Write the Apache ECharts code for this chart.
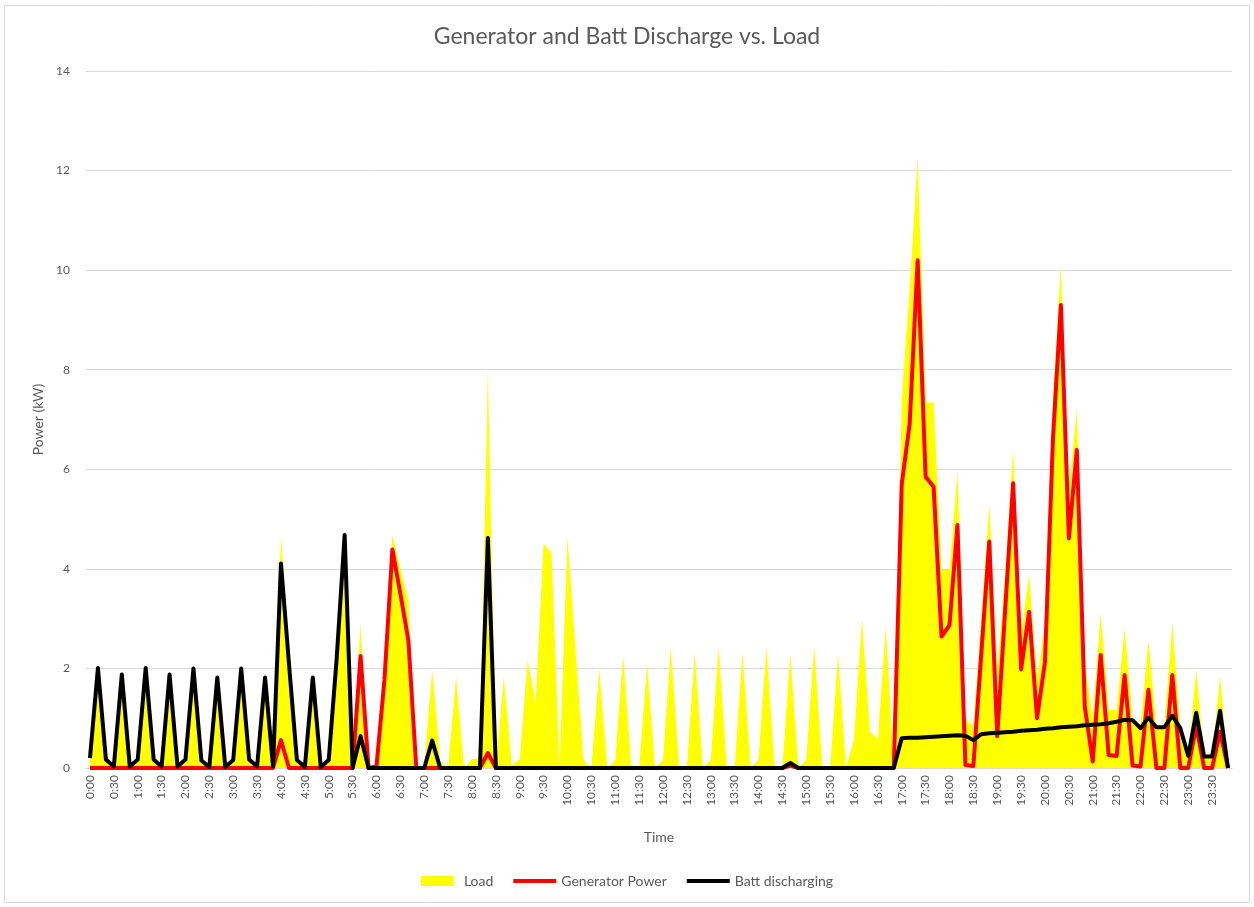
<!DOCTYPE html>
<html>
<head>
<meta charset="utf-8">
<title>Generator and Batt Discharge vs. Load</title>
<script src="https://cdn.jsdelivr.net/npm/echarts@6/dist/echarts.min.js"></script>
<style>
html, body { margin: 0; padding: 0; background: #fff; }
#chart { width: 1254px; height: 907px; }
</style>
</head>
<body>
<div id="chart"></div>
<script>
// 10-minute steps over one day
var times = [];
for (var h = 0; h < 24; h++) {
	for (var m = 0; m < 60; m += 10) {
		times.push(h + ':' + (m < 10 ? '0' + m : m));
	}
}

// Load (kW)
var load = [
	0.2, 2.01, 0.17, 0.03, 1.88, 0.03, 0.17, 2.01, 0.17, 0.03,
	1.88, 0.03, 0.17, 2.0, 0.15, 0.02, 1.82, 0.02, 0.16, 2.0,
	0.17, 0.03, 1.82, 0.03, 4.67, 2.1, 0.16, 0.02, 1.82, 0.02,
	0.16, 2.2, 4.68, 0, 2.9, 0.05, 0.05, 1.9, 4.68, 4.0,
	3.37, 0, 0.05, 1.97, 0.15, 0, 1.83, 0, 0.18, 0.2,
	8.0, 0, 1.83, 0.05, 0.18, 2.17, 1.3, 4.51, 4.31, 0,
	4.65, 2.4, 0.16, 0, 1.98, 0, 0.16, 2.25, 0.05, 0,
	2.1, 0, 0.16, 2.44, 0.05, 0, 2.32, 0, 0.16, 2.44,
	0.05, 0, 2.32, 0, 0.16, 2.44, 0.05, 0, 2.29, 0,
	0.16, 2.44, 0.05, 0, 2.29, 0, 0.56, 2.99, 0.73, 0.58,
	2.82, 0, 7.4, 9.6, 12.24, 7.34, 7.34, 3.98, 3.98, 5.95,
	1.0, 0.83, 3.0, 5.31, 1.9, 3.9, 6.4, 2.7, 3.88, 1.8,
	2.9, 7.4, 10.1, 5.6, 7.19, 2.1, 1.0, 3.1, 1.16, 1.17,
	2.8, 1.01, 0.83, 2.56, 0.82, 0.82, 2.9, 0.8, 0.24, 1.97,
	0.23, 0.23, 1.85, 0
];

// Generator Power (kW)
var generator = [
	0, 0, 0, 0, 0, 0, 0, 0, 0, 0,
	0, 0, 0, 0, 0, 0, 0, 0, 0, 0,
	0, 0, 0, 0, 0.56, 0, 0, 0, 0, 0,
	0, 0, 0, 0, 2.25, 0, 0.03, 1.77, 4.39, 3.5,
	2.57, 0, 0, 0, 0, 0, 0, 0, 0, 0,
	0.3, 0, 0, 0, 0, 0, 0, 0, 0, 0,
	0, 0, 0, 0, 0, 0, 0, 0, 0, 0,
	0, 0, 0, 0, 0, 0, 0, 0, 0, 0,
	0, 0, 0, 0, 0, 0, 0, 0, 0.05, 0,
	0, 0, 0, 0, 0, 0, 0, 0, 0, 0,
	0, 0, 5.7, 6.92, 10.2, 5.85, 5.65, 2.64, 2.87, 4.88,
	0.06, 0.04, 2.3, 4.55, 0.64, 3.18, 5.72, 1.98, 3.14, 1.0,
	2.13, 6.6, 9.3, 4.61, 6.39, 1.23, 0.13, 2.27, 0.26, 0.24,
	1.87, 0.05, 0.03, 1.57, 0, 0, 1.87, 0, 0, 0.85,
	0, 0, 0.73, 0
];

// Batt discharging (kW)
var battery = [
	0.2, 2.01, 0.17, 0.03, 1.88, 0.03, 0.17, 2.01, 0.17, 0.03,
	1.88, 0.03, 0.17, 2.0, 0.15, 0.02, 1.82, 0.02, 0.16, 2.0,
	0.17, 0.03, 1.82, 0.03, 4.11, 2.1, 0.16, 0.02, 1.82, 0.02,
	0.16, 2.2, 4.68, 0, 0.64, 0, 0, 0, 0, 0,
	0, 0, 0, 0.55, 0, 0, 0, 0, 0, 0,
	4.62, 0, 0, 0, 0, 0, 0, 0, 0, 0,
	0, 0, 0, 0, 0, 0, 0, 0, 0, 0,
	0, 0, 0, 0, 0, 0, 0, 0, 0, 0,
	0, 0, 0, 0, 0, 0, 0, 0, 0.1, 0,
	0, 0, 0, 0, 0, 0, 0, 0, 0, 0,
	0, 0, 0.60, 0.61, 0.61, 0.62, 0.63, 0.64, 0.65, 0.66,
	0.65, 0.56, 0.68, 0.70, 0.71, 0.72, 0.73, 0.75, 0.76, 0.77,
	0.79, 0.80, 0.82, 0.83, 0.84, 0.86, 0.87, 0.88, 0.90, 0.93,
	0.97, 0.96, 0.80, 1.01, 0.82, 0.82, 1.05, 0.80, 0.24, 1.11,
	0.23, 0.23, 1.15, 0
];

var font = 'Lato, "Open Sans", sans-serif';
var grey = '#595959';

var myChart = echarts.init(document.getElementById('chart'));
var option = {
	backgroundColor : '#ffffff',
	animation : false,
	textStyle : {
		fontFamily : font
	},
	// 外框
	graphic : [ {
		type : 'rect',
		shape : { x : 4.5, y : 5.5, width : 1245, height : 897 },
		style : { fill : 'none', stroke : '#d9d9d9', lineWidth : 1 },
		silent : true
	} ],
	title : {
		text : 'Generator and Batt Discharge vs. Load',
		left : 'center',
		top : 20,
		textStyle : {
			fontFamily : font,
			fontSize : 23,
			fontWeight : 'normal',
			color : grey
		}
	},
	legend : {
		bottom : 14,
		left : 'center',
		itemWidth : 43,
		itemHeight : 10,
		itemGap : 20,
		textStyle : {
			fontFamily : font,
			fontSize : 14,
			color : grey
		},
		data : [ {
			name : 'Load',
			icon : 'path://M0,0 L33,0 L33,10 L0,10 Z'
		}, {
			name : 'Generator Power',
			icon : 'path://M0,0 L43,0 L43,4 L0,4 Z'
		}, {
			name : 'Batt discharging',
			icon : 'path://M0,0 L43,0 L43,4 L0,4 Z'
		} ]
	},
	grid : {
		left : 86,
		right : 22,
		top : 71,
		bottom : 139
	},
	xAxis : {
		type : 'category',
		data : times,
		boundaryGap : true,
		name : 'Time',
		nameLocation : 'middle',
		nameGap : 62,
		nameTextStyle : {
			fontFamily : font,
			fontSize : 14,
			color : grey
		},
		axisLine : {
			lineStyle : { color : '#d9d9d9' }
		},
		axisTick : { show : false },
		axisLabel : {
			interval : 2,
			rotate : 90,
			margin : 7,
			fontFamily : font,
			fontSize : 12,
			color : grey
		}
	},
	yAxis : {
		type : 'value',
		min : 0,
		max : 14,
		interval : 2,
		name : 'Power (kW)',
		nameLocation : 'middle',
		nameRotate : 90,
		nameGap : 40,
		nameTextStyle : {
			fontFamily : font,
			fontSize : 14,
			color : grey
		},
		axisLine : { show : false },
		axisTick : { show : false },
		axisLabel : {
			margin : 16,
			fontFamily : font,
			fontSize : 12,
			color : grey
		},
		splitLine : {
			lineStyle : { color : '#d9d9d9', width : 1 }
		}
	},
	series : [ {
		name : 'Load',
		type : 'line',
		data : load,
		showSymbol : false,
		symbol : 'none',
		itemStyle : { color : '#ffff00' },
		lineStyle : { width : 0, color : '#ffff00' },
		areaStyle : { color : '#ffff00', opacity : 1 },
		z : 1
	}, {
		name : 'Generator Power',
		type : 'line',
		data : generator,
		showSymbol : false,
		symbol : 'none',
		itemStyle : { color : '#ff0000' },
		lineStyle : { width : 4, color : '#ff0000', join : 'round' },
		z : 2
	}, {
		name : 'Batt discharging',
		type : 'line',
		data : battery,
		showSymbol : false,
		symbol : 'none',
		itemStyle : { color : '#000000' },
		lineStyle : { width : 4, color : '#000000', join : 'round' },
		z : 3
	} ]
};
myChart.setOption(option);
</script>
</body>
</html>
